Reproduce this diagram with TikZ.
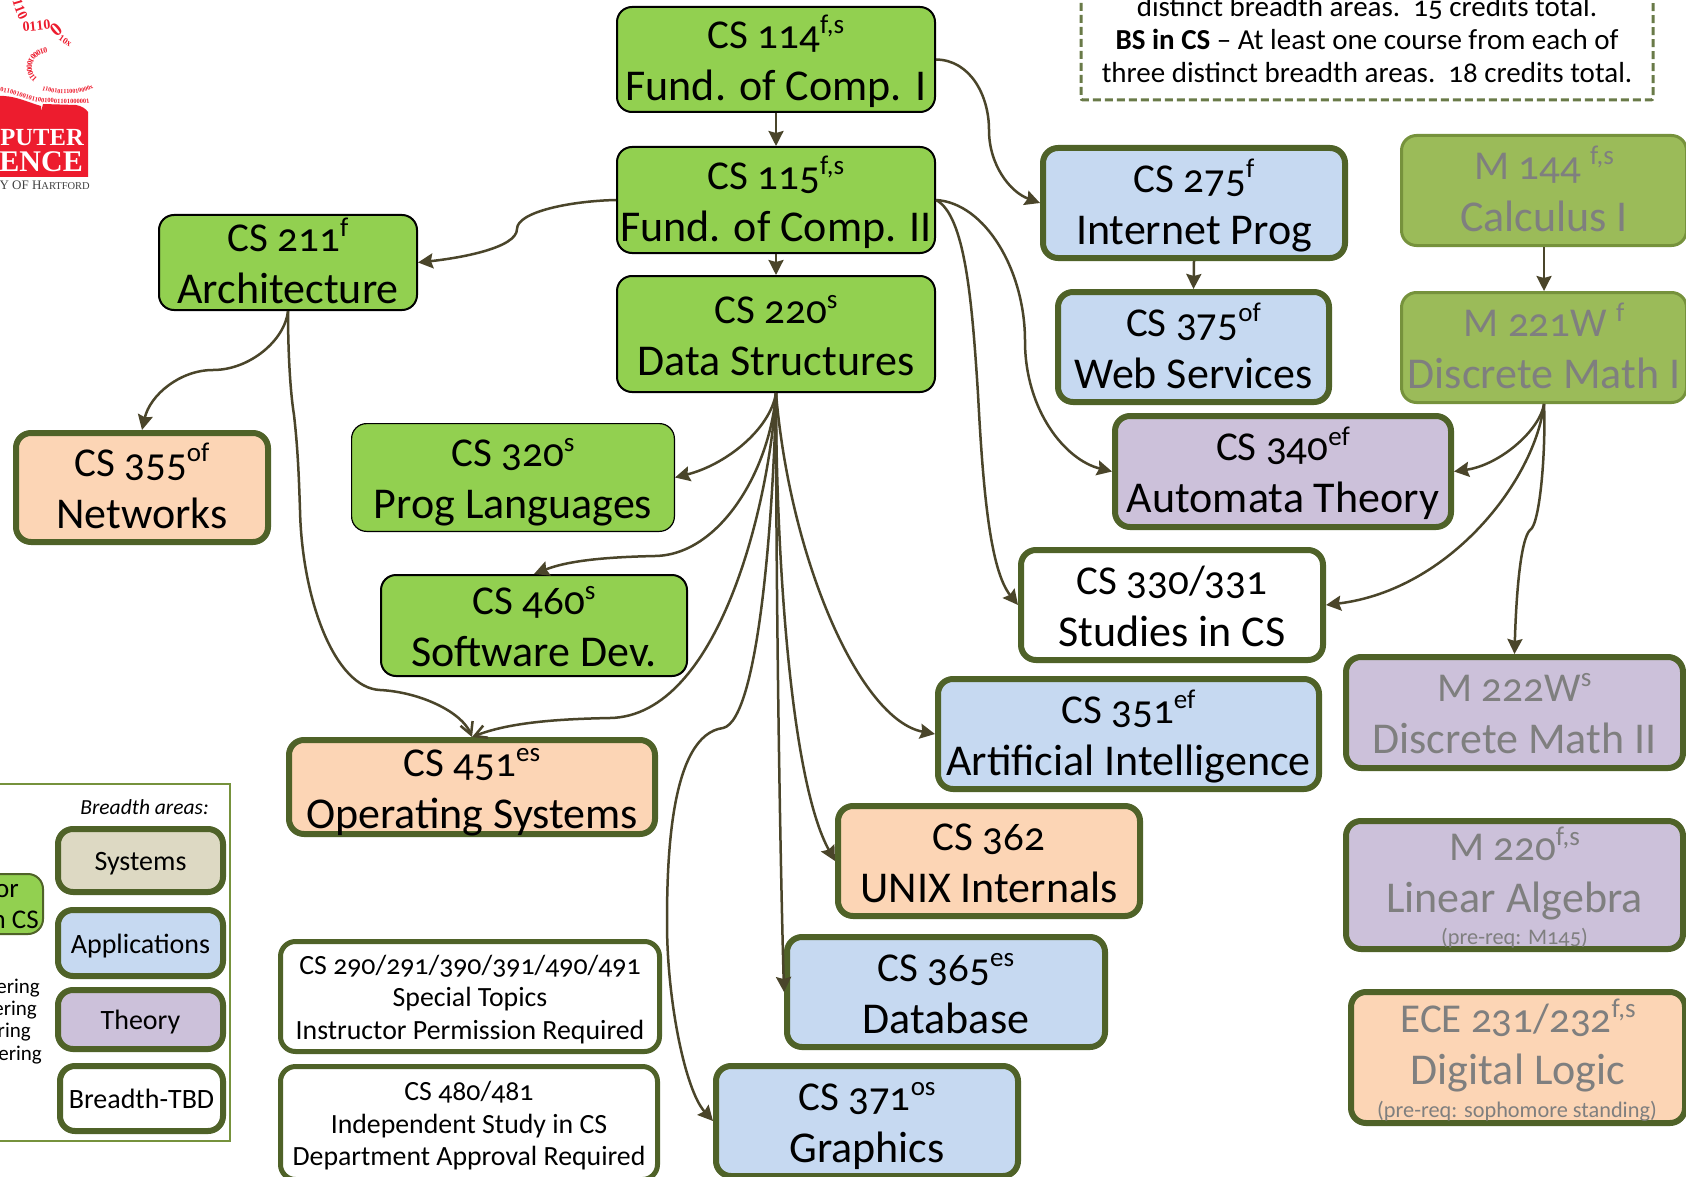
\documentclass[tikz,border=0pt]{standalone}
\usepackage{fontspec}
\setmainfont[Numbers=OldStyle]{Carlito}
\newfontfamily\logofont{Liberation Serif}
\usetikzlibrary{arrows.meta,decorations.text}
\definecolor{bord}{HTML}{4F6228}
\definecolor{arr}{HTML}{4A452A}
\definecolor{lgreen}{HTML}{92D050}
\definecolor{olive}{HTML}{9BBB59}
\definecolor{olived}{HTML}{76923C}
\definecolor{appl}{HTML}{C6D9F1}
\definecolor{theo}{HTML}{CCC1DA}
\definecolor{syst}{HTML}{FCD5B5}
\definecolor{tan}{HTML}{DDD9C3}
\definecolor{grayt}{HTML}{7F7F7F}
\definecolor{logored}{HTML}{ED1C2E}
\newcommand\mainf{\fontsize{44}{52}\selectfont}
\newcommand\ups[1]{\raisebox{15pt}{\fontsize{27}{27}\selectfont #1}}
\newcommand\lineone[1]{{\fontsize{41}{52}\selectfont #1}}
\newcommand\twol[2]{\lineone{#1}\\#2}
\newcommand\threel[3]{#1\\#2\\#3}
\newcommand\boxnode[8]{\node[boxbase,#7,line width=#1pt,minimum width={#5-#3-#1},minimum height={#6-#4-#1}] (#2) at ({(#3+#5)/2},{(#4+#6)/2}) {#8};}
\tikzset{
  boxbase/.style={rectangle,rounded corners=15pt,inner sep=0pt,align=center,font=\mainf,text=black,text height=88pt,text depth=5.5pt},
  strong/.style={draw=black,fill=lgreen},
  plainm/.style={draw=olived,fill=olive,text=grayt},
  sysb/.style={draw=bord,fill=syst},
  appb/.style={draw=bord,fill=appl},
  theob/.style={draw=bord,fill=theo},
  tbdb/.style={draw=bord,fill=white},
  mutet/.style={text=grayt},
  notedbox/.style={text height=88pt,text depth=34pt},
  smalls/.style={font=\fontsize{27.8}{32.5}\selectfont,text height=92pt,text depth=7pt},
  legendt/.style={font=\fontsize{28}{30}\selectfont,text height=24pt,text depth=4pt},
  link/.style={draw=arr,line width=2.5pt,-{Stealth[length=15pt,width=15pt,inset=2pt]}},
  barb/.style={draw=arr,line width=2.5pt,-{Straight Barb[length=12pt,width=13pt]}},
  note/.style={inner sep=0pt,anchor=base,font=\fontsize{22.3}{22.3}\selectfont,text=grayt},
  leg/.style={inner sep=0pt,anchor=base east,font=\fontsize{21}{21}\selectfont},
  logot/.style={inner sep=0pt,anchor=base east,text=white},
  bits/.style={decorate,decoration={text along path,text color=logored,raise=0pt}},
}
\begin{document}
\begin{tikzpicture}[x=1pt,y=-1pt]
\path[use as bounding box,clip] (0,0) rectangle (1686,1177);
\fill[white] (0,0) rectangle (1686,1177);

% logo
\fill[logored] (-2,96) .. controls (14,95) and (27,102) .. (41,106) -- (41,112) -- (43,104) -- (76,105) .. controls (82,106) and (86,109) .. (88,112) -- (88,177) -- (-2,177) -- cycle;
\node[logot,font=\logofont\bfseries\fontsize{24.6}{24.6}\selectfont] (logoa) at (84,146) {PUTER};
\node[logot,font=\logofont\bfseries\fontsize{30}{30}\selectfont] (logob) at (83,172) {ENCE};
\node[inner sep=0pt,anchor=base east,text=black!75] (logoc) at (90,190) {\logofont\fontsize{13}{13}\selectfont Y OF H\fontsize{10.5}{10.5}\selectfont ARTFORD};
\path[bits,decoration={text={|\logofont\bfseries\fontsize{14}{14}\selectfont|0110}}] (11,-6) .. controls (13,6) and (17,16) .. (22,24);
\path[bits,decoration={text={|\logofont\bfseries\fontsize{14}{14}\selectfont|0110}}] (23,32) -- (54,29);
\node[inner sep=0pt,rotate=40,text=logored,font=\logofont\bfseries\fontsize{19}{19}\selectfont] (logod) at (56,30) {0};
\path[bits,decoration={text={|\logofont\bfseries\fontsize{9}{9}\selectfont|10x}}] (58,40) -- (78,53);
\path[bits,decoration={text={|\logofont\bfseries\fontsize{8}{8}\selectfont|010001000011}}] (47,48) .. controls (22,50) and (20,80) .. (42,86);
\path[bits,decoration={text={|\logofont\bfseries\fontsize{6.2}{6.2}\selectfont|1100101110010000x}}] (42,90) .. controls (60,96) and (88,96) .. (102,82);
\path[bits,decoration={text={|\logofont\bfseries\fontsize{6.5}{6.5}\selectfont|0110010010110010001101000001}}] (0,92) .. controls (15,93) and (30,103) .. (50,103) .. controls (70,103) and (88,106) .. (101,100);

% requirements note
\node[draw=bord!85,line width=3pt,dash pattern=on 8pt off 4pt,rectangle,rounded corners=2pt,minimum width=572pt,minimum height=200pt,inner sep=0pt] (reqbox) at (1367,0) {};
\node[inner sep=0pt,anchor=base,align=center,font=\fontsize{29}{33}\selectfont] (reqtext) at (1367,83) {distinct breadth areas.\ \ 15 credits total.\\\textbf{BS in CS} – At least one course from each of\\three distinct breadth areas.\ \ 18 credits total.};

% legend
\node[draw=olived,fill=white,line width=2pt,rectangle,minimum width=330pt,minimum height=357pt,inner sep=0pt] (legendbox) at (65,962.5) {};
\node[inner sep=0pt,anchor=base east,font=\itshape\fontsize{21.5}{21.5}\selectfont] (legendhead) at (209,814) {Breadth areas:};
\boxnode{6}{lsys}{55}{826}{226}{895}{draw=bord,fill=tan,legendt}{Systems}
\boxnode{6}{lapp}{55}{907}{226}{979}{appb,legendt}{Applications}
\boxnode{6}{lthe}{55}{987}{226}{1052}{theob,legendt}{Theory}
\boxnode{6}{ltbd}{57}{1063}{226}{1134}{tbdb,legendt}{Breadth-TBD}
\boxnode{2}{lcore}{-60}{873}{44}{935}{strong,draw=bord,legendt}{}
\node[leg,font=\fontsize{27}{27}\selectfont] (lcorea) at (19,897) {or};
\node[leg,font=\fontsize{27}{27}\selectfont] (lcoreb) at (39,928) {n CS};
\node[leg] (lo1) at (40,993) {ering};
\node[leg] (lo2) at (37,1015) {ering};
\node[leg] (lo3) at (31,1037) {ring};
\node[leg] (lo4) at (42,1060) {fering};

% core courses
\boxnode{2}{cs114}{616}{6}{936}{113}{strong}{\twol{CS 114\ups{f,s}}{Fund. of Comp. I}}
\boxnode{2}{cs115}{616}{146}{936}{254}{strong}{\twol{CS 115\ups{f,s}}{Fund. of Comp. II}}
\boxnode{2}{cs220}{616}{275}{936}{393}{strong}{\twol{CS 220\ups{s}}{Data Structures}}
\boxnode{2}{cs211}{158}{214}{418}{311}{strong}{\twol{CS 211\ups{f}}{Architecture}}
\boxnode{1.2}{cs320}{351}{423}{675}{532}{strong}{\twol{CS 320\ups{s}}{Prog Languages}}
\boxnode{2}{cs460}{380}{574}{688}{677}{strong}{\twol{CS 460\ups{s}}{Software Dev.}}

% breadth courses
\boxnode{6}{cs355}{13}{430}{271}{545}{sysb}{\twol{CS 355\ups{of}}{Networks}}
\boxnode{6}{cs451}{286}{737}{658}{837}{sysb}{\twol{CS 451\ups{es}}{Operating Systems}}
\boxnode{6}{cs275}{1040}{145}{1348}{261}{appb}{\twol{CS 275\ups{f}}{Internet Prog}}
\boxnode{6}{cs375}{1055}{289}{1332}{405}{appb}{\twol{CS 375\ups{of}}{Web Services}}
\boxnode{6}{cs340}{1112}{413}{1454}{530}{theob}{\twol{CS 340\ups{ef}}{Automata Theory}}
\boxnode{6}{cs330}{1018}{547}{1326}{663}{tbdb}{\twol{CS 330/331}{Studies in CS}}
\boxnode{6}{cs351}{935}{676}{1322}{792}{appb}{\twol{CS 351\ups{ef}}{Artificial Intelligence}}
\boxnode{6}{cs362}{835}{803}{1143}{919}{sysb}{\twol{CS 362}{UNIX Internals}}
\boxnode{6}{cs365}{784}{934}{1108}{1050}{appb}{\twol{CS 365\ups{es}}{Database}}
\boxnode{6}{cs371}{713}{1063}{1021}{1179}{appb}{\twol{CS 371\ups{os}}{Graphics}}

% mathematics and engineering
\boxnode{3}{m144}{1400}{134}{1688}{247}{plainm}{\twol{M 144 \ups{f,s}}{Calculus I}}
\boxnode{3}{m221}{1400}{291}{1688}{404}{plainm}{\twol{M 221W \ups{f}}{Discrete Math I}}
\boxnode{6}{m222}{1343}{654}{1686}{771}{theob,mutet}{\twol{M 222W\ups{s}}{Discrete Math II}}
\boxnode{6}{m220}{1343}{818}{1686}{952}{theob,mutet,notedbox}{\twol{M 220\ups{f,s}}{Linear Algebra}}
\boxnode{6}{ece}{1348}{989}{1688}{1126}{sysb,mutet,notedbox}{\twol{ECE 231/232\ups{f,s}}{Digital Logic}}
\node[note] (m220note) at (1514.5,944) {(pre-req: M145)};
\node[note] (ecenote) at (1517,1117) {(pre-req: sophomore standing)};

% special topics
\boxnode{5}{topics}{278}{939}{662}{1054}{tbdb,smalls}{\threel{CS 290/291/390/391/490/491}{Special Topics}{Instructor Permission Required}}
\boxnode{5}{indep}{278}{1064}{660}{1182}{tbdb,smalls}{\threel{CS 480/481}{Independent Study in CS}{Department Approval Required}}

% prerequisites
\draw[link] (cs114.south) -- (cs115.north);
\draw[link] (cs115.south) -- (cs220.north);
\draw[link] (cs275.south) -- (cs375.north);
\draw[link] (m144.south -| m221.north) -- (m221.north);
\draw[link] (cs114.east) .. controls (970,60) and (989,95) .. (989,130) .. controls (989,165) and (1010,192) .. (cs275.west);
\draw[link] (cs115.east) .. controls (985,203) and (1025,270) .. (1025,341) .. controls (1025,410) and (1065,460) .. (cs340.west);
\draw[link] (cs115.east) .. controls (965,215) and (972,300) .. (978,394) .. controls (983,490) and (990,570) .. (cs330.west);
\draw[link] (cs115.west) .. controls (570,201) and (517,212) .. (517,229) .. controls (517,248) and (460,258) .. (cs211.east);
\draw[link] (cs211.south) .. controls (285,340) and (250,370) .. (213,370) .. controls (180,370) and (150,395) .. (cs355.north);
\draw[barb] (cs211.south) .. controls (288,350) and (290,390) .. (294,415) .. controls (298,450) and (299,480) .. (300,510) .. controls (302,600) and (335,688) .. (380,690) .. controls (420,692) and (462,712) .. (cs451.north);
\draw[link] (cs220.south) .. controls (770,430) and (725,465) .. (cs320.east);
\draw[link] (cs220.south) .. controls (770,470) and (720,555) .. (655,556) .. controls (610,557) and (570,560) .. (cs460.north);
\draw[barb] (cs220.south) .. controls (770,500) and (720,716) .. (610,718) .. controls (560,719) and (510,722) .. (cs451.north);
\draw[link] (cs220.south) .. controls (774,500) and (760,720) .. (723,728) .. controls (670,735) and (667,860) .. (667,923) .. controls (667,1000) and (685,1090) .. (cs371.west);
\draw[link] (cs220.south) .. controls (776,600) and (780,850) .. (cs365.west);
\draw[link] (cs220.south) .. controls (776,550) and (790,780) .. (cs362.west);
\draw[link] (cs220.south) .. controls (790,560) and (860,720) .. (cs351.west);
\draw[link] (m221.south) .. controls (1540,430) and (1500,465) .. (cs340.east);
\draw[link] (m221.south) .. controls (1535,480) and (1450,590) .. (cs330.east);
\draw[link] (m221.south) .. controls (1546,450) and (1540,525) .. (1530,530) .. controls (1520,540) and (1516,600) .. (m222.north);
\end{tikzpicture}
\end{document}
